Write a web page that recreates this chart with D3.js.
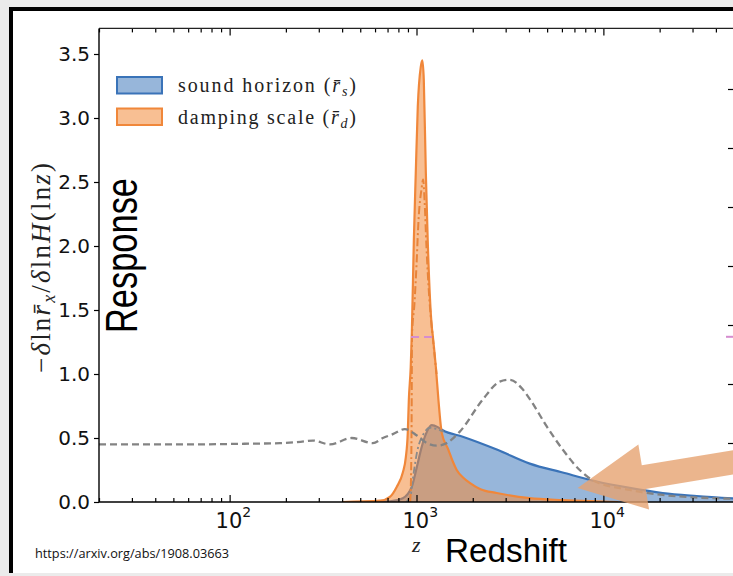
<!DOCTYPE html>
<html><head><meta charset="utf-8">
<script src="https://cdn.jsdelivr.net/npm/d3@7"></script>
<style>body{margin:0;background:#ebebeb;} svg{display:block}</style>
</head><body><svg id="c" width="733" height="576"></svg>
<script>
// ---- data ----
const dampZ = [400,640,720,785,845,877,898,910,931,944,968,991,1016,1054,1075,1094,1122,1148,1207,1222,1270,1310,1365,1480,1560,1641,1780,1927,2200,2688,4036,6058,9300,12000];
const dampV = [0,0.01,0.04,0.12,0.23,0.35,0.54,0.80,1.05,1.32,2.05,2.57,3.09,3.40,3.45,3.30,2.57,2.05,1.37,1.30,1.05,0.80,0.54,0.41,0.32,0.25,0.19,0.15,0.10,0.07,0.03,0.015,0.005,0];
const soundZ = [500,720,845,944,1003,1066,1122,1207,1300,1382,1768,2688,4036,6058,9204,13830,20770,31550,50000];
const soundV = [0,0.005,0.03,0.12,0.27,0.43,0.53,0.60,0.585,0.56,0.51,0.41,0.30,0.23,0.16,0.11,0.07,0.047,0.028];
const dashZ = [20,60,120,186,240,279,344,450,584,661,747,866,1004,1136,1283,1450,1705,2262,2787,3155,3700,4100,4977,6058,7470,8770,13830,20770,50000];
const dashV = [0.45,0.45,0.455,0.46,0.47,0.48,0.45,0.50,0.46,0.50,0.53,0.57,0.52,0.46,0.44,0.46,0.55,0.80,0.94,0.955,0.88,0.79,0.59,0.41,0.25,0.17,0.094,0.055,0.025];
const ddOrZ = [925,935,942,946,975,1000,1025,1065,1085,1105,1130,1170,1220,1280];
const ddOrV = [0,0.2,0.7,1.3,1.55,1.85,2.2,2.45,2.52,2.35,2.0,1.6,1.3,1.0];
const ddGrZ = [880,930,960,1010,1080,1180,1280,1400];
const ddGrV = [0,0.05,0.2,0.4,0.52,0.58,0.57,0.55];
const pinkZ = [935,1235];
const pinkV = 1.29;
const yTicks = [0,0.5,1.0,1.5,2.0,2.5,3.0,3.5];
const xMajor = [100,1000,10000];
const xExp = ["2","3","4"];
const nextPanelTicks = [1,2,3,4,5,6,7];
const nextPanelPink = 2.8;
const arrowTail = [60000,0.33];
const arrowTip = [7280,0.11];
const legendLabels = [["sound horizon (","r\u0304","s",")"],["damping scale (","r\u0304","d",")"]];

// ---- drawing ----
const svg = d3.select("#c");
const W = 733, H = 576;
const x = d3.scaleLog().domain([20,50000]).range([99,734]);
const y = d3.scaleLinear().domain([0,3.7]).range([502,28.4]);
const yN = d3.scaleLinear().domain([0,8]).range([502,30]);

const blue = "#2f6db5", blueLine = "#3a73b8";
const orange = "#f28a3a", orangeLine = "#f0873a";

// slide frame
svg.append("rect").attr("x",0).attr("y",0).attr("width",W).attr("height",H).attr("fill","#ebebeb");
svg.append("rect").attr("x",11).attr("y",9).attr("width",W).attr("height",564).attr("fill","#ffffff");
svg.append("rect").attr("x",9).attr("y",7).attr("width",W).attr("height",4).attr("fill","#000");
svg.append("rect").attr("x",9).attr("y",7).attr("width",4).attr("height",566).attr("fill","#000");

const defs = svg.append("defs");
defs.append("clipPath").attr("id","plot").append("rect")
  .attr("x",99).attr("y",28.4).attr("width",640).attr("height",502-28.4);

const g = svg.append("g").attr("clip-path","url(#plot)");
const zip = (zs,vs)=>zs.map((z,i)=>[z,vs[i]]);
const area = d3.area().x(d=>x(d[0])).y0(y(0)).y1(d=>y(d[1])).curve(d3.curveMonotoneX);
const line = d3.line().x(d=>x(d[0])).y(d=>y(d[1])).curve(d3.curveMonotoneX);

const sound = zip(soundZ,soundV), damp = zip(dampZ,dampV);
g.append("path").attr("d",area(sound)).attr("fill",blue).attr("fill-opacity",0.5);
g.append("path").attr("d",line(sound)).attr("fill","none").attr("stroke",blueLine).attr("stroke-width",2.2);
g.append("path").attr("d",area(damp)).attr("fill",orange).attr("fill-opacity",0.55);
g.append("path").attr("d",line(damp)).attr("fill","none").attr("stroke",orangeLine).attr("stroke-width",2.2);

g.append("path").attr("d",line(zip(ddGrZ,ddGrV))).attr("fill","none").attr("stroke","#8a8a8a")
  .attr("stroke-width",1.8).attr("stroke-dasharray","7,3,2,3");
g.append("path").attr("d",line(zip(ddOrZ,ddOrV))).attr("fill","none").attr("stroke","#e8843a")
  .attr("stroke-width",2).attr("stroke-dasharray","8,3,2,3");
g.append("path").attr("d",line(zip(dashZ,dashV))).attr("fill","none").attr("stroke","#838383")
  .attr("stroke-width",2.3).attr("stroke-dasharray","7,4");
g.append("line").attr("x1",x(pinkZ[0])).attr("x2",x(pinkZ[1])).attr("y1",y(pinkV)).attr("y2",y(pinkV))
  .attr("stroke","#d58ccf").attr("stroke-width",2).attr("stroke-dasharray","8,5");

// axes
const font = "'DejaVu Sans', sans-serif";
const ya = svg.append("g").attr("transform","translate(99,0)")
  .call(d3.axisLeft(y).tickValues(yTicks).tickFormat(d3.format(".1f")).tickSize(5).tickPadding(4));
ya.select(".domain").remove();
ya.selectAll("text").attr("font-family",font).attr("font-size",20).attr("fill","#111");
ya.selectAll("line").attr("stroke","#000").attr("stroke-width",1.2);

const allTicks = x.ticks();
const minors = allTicks.filter(t=>xMajor.indexOf(t)<0);
function xTicks(yPos, size, vals){
  const a = svg.append("g").attr("transform",`translate(0,${yPos})`)
    .call(d3.axisBottom(x).tickValues(vals).tickSize(size).tickFormat(""));
  a.select(".domain").remove();
  a.selectAll("line").attr("stroke","#000").attr("stroke-width",1.2);
}
xTicks(502,-4,minors); xTicks(502,-7,xMajor);
xTicks(28.4,4,minors); xTicks(28.4,7,xMajor);

// spines
svg.append("line").attr("x1",99).attr("x2",W).attr("y1",y(0)).attr("y2",y(0)).attr("stroke","#000").attr("stroke-width",1.4);
svg.append("line").attr("x1",99).attr("x2",W).attr("y1",28.4).attr("y2",28.4).attr("stroke","#222").attr("stroke-width",1.2);
svg.append("line").attr("x1",99).attr("x2",99).attr("y1",28.4).attr("y2",502).attr("stroke","#000").attr("stroke-width",1.4);

// x tick labels
xMajor.forEach((v,i)=>{
  const t = svg.append("text").attr("x",x(v)-14).attr("y",528).attr("font-family",font).attr("font-size",21).attr("fill","#111");
  t.append("tspan").text("10");
  t.append("tspan").attr("font-size",14).attr("dy",-11).text(xExp[i]);
});

// next panel (cut off) ticks
const na = svg.append("g").attr("transform","translate(733,0)")
  .call(d3.axisLeft(yN).tickValues(nextPanelTicks).tickSize(5).tickFormat(""));
na.select(".domain").remove();
na.selectAll("line").attr("stroke","#000").attr("stroke-width",1.2);
svg.append("line").attr("x1",726).attr("x2",733).attr("y1",yN(nextPanelPink)).attr("y2",yN(nextPanelPink))
  .attr("stroke","#d58ccf").attr("stroke-width",2);

// legend
const lg = svg.append("g");
[[blue,blueLine,0.5],[orange,orangeLine,0.55]].forEach((c,i)=>{
  const yy = 77 + i*31.5;
  lg.append("rect").attr("x",117).attr("y",yy).attr("width",45).attr("height",16.5)
    .attr("fill",c[0]).attr("fill-opacity",c[2]).attr("stroke",c[1]).attr("stroke-width",2);
  const t = lg.append("text").attr("x",178).attr("y",yy+15).attr("font-family","'Liberation Serif', serif")
    .attr("font-size",20).attr("fill","#222").attr("textLength",178).attr("lengthAdjust","spacing");
  const L = legendLabels[i];
  t.append("tspan").text(L[0]);
  t.append("tspan").attr("font-style","italic").text(L[1]);
  t.append("tspan").attr("font-style","italic").attr("font-size",14).attr("dy",4).text(L[2]);
  t.append("tspan").attr("dy",-4).text(L[3]);
});

// y axis math label
const yl = svg.append("text").attr("transform","translate(50,268) rotate(-90)").attr("text-anchor","middle")
  .attr("font-family","'Liberation Serif', serif").attr("font-size",27).attr("fill","#222")
  .attr("textLength",210).attr("lengthAdjust","spacing");
yl.append("tspan").text("\u2212");
yl.append("tspan").attr("font-style","italic").text("\u03b4");
yl.append("tspan").text("ln");
yl.append("tspan").attr("font-style","italic").text("r\u0304");
yl.append("tspan").attr("font-style","italic").attr("font-size",18).attr("dy",5).text("x");
yl.append("tspan").attr("dy",-5).text("/");
yl.append("tspan").attr("font-style","italic").text("\u03b4");
yl.append("tspan").text("ln");
yl.append("tspan").attr("font-style","italic").text("H");
yl.append("tspan").text("(ln");
yl.append("tspan").attr("font-style","italic").text("z");
yl.append("tspan").text(")");

// big overlay labels
svg.append("text").attr("transform","translate(137,333) rotate(-90)")
  .attr("font-family","'Liberation Sans', Arial, sans-serif").attr("font-size",44).attr("fill","#000")
  .attr("textLength",155).attr("lengthAdjust","spacingAndGlyphs").text("Response");
svg.append("text").attr("x",445).attr("y",562)
  .attr("font-family","'Liberation Sans', Arial, sans-serif").attr("font-size",34).attr("fill","#000")
  .attr("textLength",122).attr("lengthAdjust","spacingAndGlyphs").text("Redshift");
svg.append("text").attr("x",412).attr("y",552).attr("font-family","'Liberation Serif', serif")
  .attr("font-style","italic").attr("font-size",22).attr("fill","#222").text("z");
svg.append("text").attr("x",35).attr("y",558).attr("font-family","'Open Sans', sans-serif")
  .attr("font-size",13).attr("fill","#111").attr("textLength",194).attr("lengthAdjust","spacingAndGlyphs")
  .text("https://arxiv.org/abs/1908.03663");

// annotation arrow
const p0 = [x(arrowTail[0]), y(arrowTail[1])], p1 = [x(arrowTip[0]), y(arrowTip[1])];
const dx = p1[0]-p0[0], dy = p1[1]-p0[1], len = Math.hypot(dx,dy);
const u = [dx/len, dy/len], n = [u[1], -u[0]];
const hb = [p1[0]-u[0]*67, p1[1]-u[1]*67];
const pt = (b,k)=>[b[0]+n[0]*k, b[1]+n[1]*k];
const poly = [pt(p0,12),pt(hb,12),pt(hb,33),p1,pt(hb,-33),pt(hb,-12),pt(p0,-12)];
svg.append("path").attr("d",d3.line()(poly)+"Z").attr("fill","#e6a271").attr("fill-opacity",0.8);
</script></body></html>
